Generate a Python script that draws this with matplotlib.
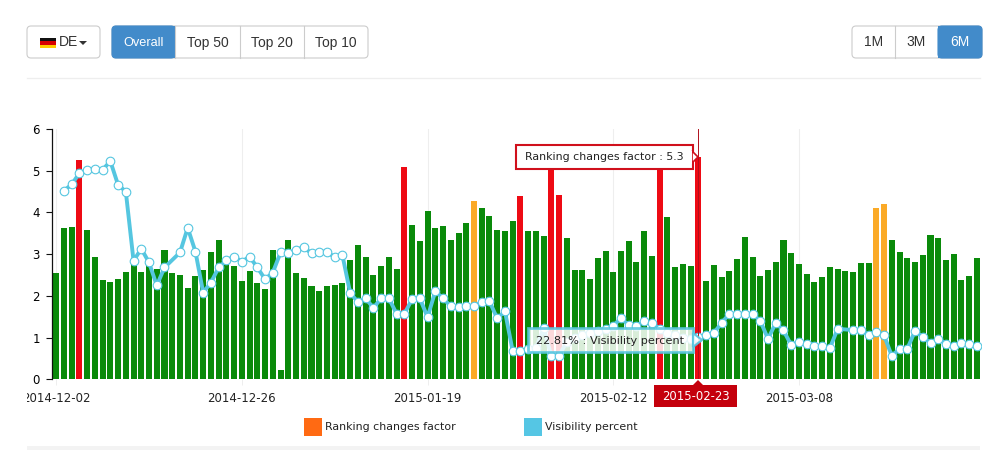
import matplotlib
matplotlib.use("Agg")
import matplotlib.pyplot as plt
from matplotlib.patches import FancyBboxPatch, Polygon, Rectangle
from matplotlib.transforms import Bbox
import numpy as np

nan = np.nan

ranking = [
    2.54, 3.62, 3.64, 5.26, 3.57, 2.93, 2.38, 2.33, 2.40, 2.57,
    2.76, 2.57, 2.75, 2.64, 3.10, 2.55, 2.50, 2.19, 2.48, 2.62,
    3.04, 3.35, 2.76, 2.72, 2.36, 2.60, 2.31, 2.16, 3.10, 0.22,
    3.35, 2.55, 2.43, 2.24, 2.12, 2.24, 2.26, 2.31, 2.86, 3.22,
    2.93, 2.50, 2.72, 2.93, 2.64, 5.10, 3.71, 3.31, 4.03, 3.62,
    3.67, 3.34, 3.50, 3.74, 4.27, 4.10, 3.91, 3.59, 3.55, 3.79,
    4.40, 3.55, 3.55, 3.43, 5.22, 4.42, 3.38, 2.62, 2.62, 2.40,
    2.91, 3.07, 2.57, 3.07, 3.31, 2.80, 3.55, 2.96, 5.20, 3.88,
    2.69, 2.76, 2.72, 5.33, 2.36, 2.74, 2.45, 2.60, 2.88, 3.40,
    2.93, 2.48, 2.62, 2.80, 3.35, 3.03, 2.76, 2.52, 2.33, 2.45,
    2.69, 2.64, 2.60, 2.57, 2.79, 2.79, 4.10, 4.21, 3.35, 3.04,
    2.90, 2.80, 2.98, 3.47, 3.38, 2.86, 3.00, 2.38, 2.48, 2.91,
]
visibility = [
    nan, 4.52, 4.67, 4.94, 5.02, 5.03, 5.02, 5.23, 4.66, 4.50,
    2.84, 3.13, 2.80, 2.25, 2.68, nan, 3.04, 3.63, 3.06, 2.08,
    2.32, 2.68, 2.85, 2.94, 2.82, 2.94, 2.68, 2.40, 2.56, 3.04,
    3.02, 3.11, 3.16, 3.02, 3.06, 3.06, 2.92, 2.97, 2.07, 1.85,
    1.94, 1.71, 1.94, 1.94, 1.57, 1.57, 1.92, 1.94, 1.49, 2.11,
    1.94, 1.75, 1.73, 1.75, 1.75, 1.85, 1.87, 1.46, 1.63, 0.68,
    0.69, 0.72, 0.74, 1.22, 0.56, 0.57, 0.90, 1.00, 1.05, 1.10,
    1.15, 1.20, 1.28, 1.47, 1.29, 1.28, 1.40, 1.36, 1.20, 1.10,
    1.05, 1.00, 0.96, 1.02, 1.06, 1.11, 1.35, 1.57, 1.57, 1.57,
    1.57, 1.40, 0.97, 1.35, 1.17, 0.82, 0.90, 0.85, 0.80, 0.80,
    0.75, 1.21, nan, 1.18, 1.18, 1.06, 1.13, 1.05, 0.56, 0.73,
    0.73, 1.16, 1.01, 0.87, 0.97, 0.85, 0.80, 0.87, 0.85, 0.80,
]
red_days = [3, 45, 60, 64, 65, 78, 83]
orange_days = [54, 106, 107]
xtick_days = [0, 24, 48, 72, 96]
xtick_labels = ["2014-12-02", "2014-12-26", "2015-01-19", "2015-02-12", "2015-03-08"]
yticks = [0, 1, 2, 3, 4, 5, 6]
left_buttons = ["Overall", "Top 50", "Top 20", "Top 10"]
right_buttons = ["1M", "3M", "6M"]

GREEN = "#0a8a0a"
RED = "#ee0a14"
ORANGE = "#fbaa27"
CYAN = "#55c6e0"
BLUE = "#428bca"
SANS = "Liberation Sans"

fig = plt.figure(figsize=(10, 4.5), dpi=100)
ax = fig.add_axes([0.0523, 1 - 379.3 / 450, 0.9285, 250.3 / 450])

days = np.arange(len(ranking))
colors = [GREEN] * len(ranking)
for d in red_days:
    colors[d] = RED
for d in orange_days:
    colors[d] = ORANGE
ax.bar(days, ranking, width=0.78, color=colors, zorder=2)

vis = np.array(visibility)
ok = ~np.isnan(vis)
ax.plot(days[ok], vis[ok], color=CYAN, lw=2.8, marker="o", ms=6.2, mfc="white",
        mec=CYAN, mew=0.8, zorder=3, solid_joinstyle="round")

# crosshair on the hovered day
ax.axvline(83, color="#b0101c", lw=0.7, zorder=4)

ax.set_xlim(-0.5, 119.5)
ax.set_ylim(0, 6)
ax.set_yticks(yticks)
ax.set_xticks(xtick_days)
ax.set_xticklabels(xtick_labels)
ax.grid(axis="x", color="#eeeeee", lw=0.8, zorder=0)
ax.tick_params(axis="y", length=4.5, width=0.8, labelsize=8.5, pad=4.5, color="#111111")
ax.tick_params(axis="x", length=4, width=0.7, labelsize=8.5, pad=5, color="#eeeeee", labelcolor="#222222")
for s in ["top", "right", "bottom"]:
    ax.spines[s].set_visible(False)
ax.spines["left"].set_linewidth(0.9)
ax.spines["left"].set_color("#111111")

# first date label is cut off by the chart frame
first = ax.get_xticklabels()[0]
first.set_clip_on(True)
first.set_clip_box(Bbox([[27, 0], [200, 450]]))

# overlay in pixel coords for page controls and tooltips
ui = fig.add_axes([0, 0, 1, 1], zorder=5)
ui.set_xlim(0, 1000)
ui.set_ylim(450, 0)
ui.axis("off")


def round_box(x0, y0, x1, y1, fc="white", ec="#cccccc", lw=0.8, pad=3, alpha=None):
    p = FancyBboxPatch((x0 + pad, y0 + pad), x1 - x0 - 2 * pad, y1 - y0 - 2 * pad,
                       boxstyle=f"round,pad={pad},rounding_size={pad + 1}",
                       fc=fc, ec=ec, lw=lw, alpha=alpha, mutation_aspect=1)
    ui.add_patch(p)
    return p


def button_row(edges, labels, active):
    round_box(edges[0], 26, edges[-1], 58)
    for i, lab in enumerate(labels):
        x0, x1 = edges[i], edges[i + 1]
        if i == active:
            round_box(x0, 26, x1, 58, fc=BLUE, ec=BLUE)
            # square off the side that touches the next button
            if i == 0:
                ui.add_patch(Rectangle((x1 - 6, 26), 6, 32, fc=BLUE, ec="none"))
            else:
                ui.add_patch(Rectangle((x0, 26), 6, 32, fc=BLUE, ec="none"))
        elif i > 0:
            ui.plot([x0, x0], [26, 58], color="#cccccc", lw=0.8)
        size = 9.2 if lab == "Overall" else 10
        ui.text((x0 + x1) / 2, 42.5, lab, ha="center", va="center", family=SANS, fontsize=size,
                color="white" if i == active else "#333333")


# country dropdown
round_box(27, 26, 100, 58)
for k, c in enumerate(["#111111", "#d80000", "#ffcc00"]):
    ui.add_patch(Rectangle((40, 37.5 + k * 3.6), 16, 3.6, fc=c, ec="none"))
ui.text(59, 42.5, "DE", ha="left", va="center", family=SANS, fontsize=10, color="#333333")
ui.add_patch(Polygon([[79, 41], [87, 41], [83, 45]], fc="#333333", ec="none"))

button_row([112, 175, 240, 304, 368], left_buttons, 0)
button_row([852, 895, 938, 982], right_buttons, 2)

ui.plot([27, 980], [78, 78], color="#eeeeee", lw=0.9)

# ranking tooltip
ui.add_patch(Rectangle((516, 145), 177, 24, fc="white", ec="#d0101c", lw=1.5))
ui.add_patch(Polygon([[692, 151], [698, 157], [692, 163]], fc="white", ec="#d0101c", lw=1.2))
ui.add_patch(Rectangle((689, 150.5), 3, 13, fc="white", ec="none", zorder=3))
ui.text(525, 157.5, "Ranking changes factor : 5.3", ha="left", va="center", fontsize=7.9, color="#222222", zorder=4)

# visibility tooltip
ui.add_patch(Rectangle((528, 328), 165, 24, fc="white", ec=CYAN, lw=2, alpha=0.85))
ui.add_patch(Polygon([[693, 333], [702, 340], [693, 347]], fc="white", ec=CYAN, lw=1.6, alpha=0.9))
ui.text(536, 340.5, "22.81% : Visibility percent", ha="left", va="center", fontsize=8.1, color="#222222", zorder=4)

# axis pointer date tag
ui.add_patch(Rectangle((654, 385), 83, 22, fc="#c4000c", ec="none"))
ui.add_patch(Polygon([[693, 385], [698, 380], [703, 385]], fc="#c4000c", ec="none"))
ui.text(695.5, 396.5, "2015-02-23", ha="center", va="center", fontsize=8.4, color="white")

# legend
ui.add_patch(Rectangle((304, 418), 18, 18, fc="#ff6a13", ec="none"))
ui.text(325, 427.5, "Ranking changes factor", ha="left", va="center", fontsize=7.9, color="#222222")
ui.add_patch(Rectangle((524, 418), 18, 18, fc="#55c6e4", ec="none"))
ui.text(545, 427.5, "Visibility percent", ha="left", va="center", fontsize=7.9, color="#222222")

# start of next panel at the page bottom
ui.add_patch(Rectangle((27, 446), 953, 4, fc="#f3f3f3", ec="none"))

fig.savefig("out.png", dpi=100)
